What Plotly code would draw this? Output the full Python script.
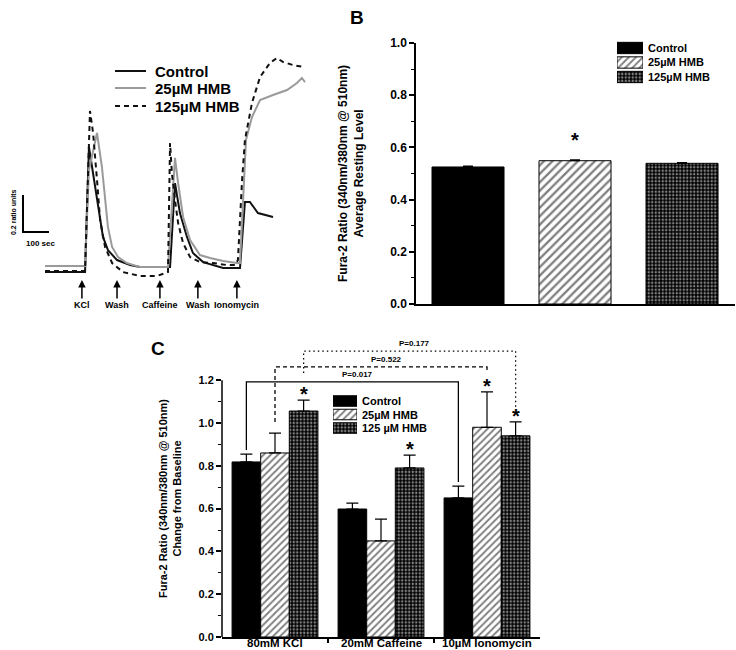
import plotly.graph_objects as go

W, H = 736, 650
FONT = "Liberation Sans, Arial, Helvetica, sans-serif"


def px(x):
    return x / W


def py(y):
    return (H - y) / H


# ---------------- Panel A data (time in s, Fura-2 ratio) ----------------
t_ctrl = [0, 154, 169, 185, 204, 223, 242, 277, 327, 365, 469, 481, 500, 519, 546,
          569, 608, 685, 750, 769, 788, 819, 877]
r_ctrl = [0.555, 0.555, 1.231, 1.091, 0.907, 0.745, 0.674, 0.620, 0.593, 0.582, 0.582,
          0.582, 1.036, 0.874, 0.745, 0.658, 0.609, 0.577, 0.577, 0.934, 0.934, 0.874, 0.853]

t_25 = [0, 154, 169, 200, 219, 231, 242, 258, 281, 315, 365, 473, 500, 512, 531, 558,
        596, 635, 685, 738, 750, 762, 773, 796, 827, 877, 931, 969, 988, 1000]
r_25 = [0.588, 0.588, 1.107, 1.307, 1.123, 0.961, 0.799, 0.691, 0.636, 0.604, 0.582,
        0.582, 1.172, 1.036, 0.853, 0.728, 0.647, 0.631, 0.615, 0.604, 0.604, 0.945,
        1.269, 1.393, 1.485, 1.512, 1.539, 1.577, 1.604, 1.582]

t_125 = [0, 154, 173, 185, 200, 212, 231, 258, 300, 365, 431, 473, 481, 488, 500, 512,
         531, 558, 596, 646, 700, 731, 742, 758, 769, 796, 827, 865, 892, 915, 954, 992]
r_125 = [0.561, 0.561, 1.426, 1.307, 1.053, 0.836, 0.691, 0.604, 0.555, 0.534, 0.534,
         0.555, 1.253, 1.091, 0.945, 0.820, 0.712, 0.636, 0.609, 0.604, 0.593, 0.593,
         0.620, 1.053, 1.269, 1.469, 1.609, 1.685, 1.712, 1.691, 1.674, 1.664]

a_legend = ["Control", "25\u00b5M HMB", "125\u00b5M HMB"]
event_t = [142, 277, 442, 588, 738]
event_labels = ["KCl", "Wash", "Caffeine", "Wash", "Ionomycin"]

# ---------------- Panel B data ----------------
b_groups = ["Control", "25\u00b5M HMB", "125\u00b5M HMB"]
b_vals = [0.525, 0.549, 0.539]
b_err = [0.003, 0.003, 0.003]
b_sig = [False, True, False]

# ---------------- Panel C data ----------------
c_cats = ["80mM KCl", "20mM Caffeine", "10\u00b5M Ionomycin"]
c_legend = ["Control", "25\u00b5M HMB", "125 \u00b5M HMB"]
c_ctrl = [0.818, 0.598, 0.650]
c_ctrl_err = [0.037, 0.028, 0.055]
c_25 = [0.860, 0.449, 0.980]
c_25_err = [0.093, 0.102, 0.165]
c_125 = [1.056, 0.790, 0.940]
c_125_err = [0.051, 0.060, 0.065]
c_sig = [[False, False, False], [False, False, True], [True, True, True]]
p_labels = ["P=0.017", "P=0.522", "P=0.177"]

# ---------------- styles ----------------
PAT = [dict(shape="", size=8, solidity=0.3, bg="black", fg="black"),
       dict(shape="/", size=5, solidity=0.38, bg="white", fg="black"),
       dict(shape=".", size=3.5, solidity=0.4, bg="black", fg="white")]


def pattern(sizes=None):
    return dict(shape=[p["shape"] for p in PAT], fgcolor=[p["fg"] for p in PAT],
                bgcolor=[p["bg"] for p in PAT],
                size=sizes or [p["size"] for p in PAT],
                solidity=[p["solidity"] for p in PAT])


fig = go.Figure()

for t, r, col, dash in [(t_ctrl, r_ctrl, "#111111", "solid"),
                        (t_25, r_25, "#9a9a9a", "solid"),
                        (t_125, r_125, "#111111", "5px,4px")]:
    fig.add_trace(go.Scatter(x=t, y=r, mode="lines", line=dict(color=col, width=2, dash=dash),
                             xaxis="x", yaxis="y", showlegend=False, hoverinfo="skip"))

fig.add_trace(go.Bar(
    x=[0, 1, 2], y=b_vals, width=0.673, xaxis="x2", yaxis="y2", showlegend=False,
    marker=dict(color="black", line=dict(color="black", width=1), pattern=pattern([8, 6, 3.5])),
    error_y=dict(type="data", array=b_err, arrayminus=[0, 0, 0], symmetric=False,
                 color="black", thickness=1.2, width=5),
))

CW = 0.27
for i, (vals, errs) in enumerate([(c_ctrl, c_ctrl_err), (c_25, c_25_err), (c_125, c_125_err)]):
    p = PAT[i]
    fig.add_trace(go.Bar(
        x=[0, 1, 2], y=vals, width=CW, offset=(i - 1.5) * CW, xaxis="x3", yaxis="y3",
        showlegend=False,
        marker=dict(color="black", line=dict(color="black", width=1),
                    pattern=dict(shape=p["shape"], fgcolor=p["fg"], bgcolor=p["bg"],
                                 size=p["size"], solidity=p["solidity"])),
        error_y=dict(type="data", array=errs, arrayminus=[0, 0, 0], symmetric=False,
                     color="black", thickness=1.2, width=6),
    ))

for xa, ya in [("x4", "y4"), ("x5", "y5")]:
    fig.add_trace(go.Bar(
        x=[1, 1, 1], y=[0, 1, 2], orientation="h", width=0.78, xaxis=xa, yaxis=ya,
        showlegend=False, hoverinfo="skip",
        marker=dict(color="black", line=dict(color="black", width=1), pattern=pattern()),
    ))

A_T0, A_SPS = 45, 0.26
A_R0, A_PY, A_PPU = 0.55, 273, 185
a_xr = [(0 - A_T0) / A_SPS, (320 - A_T0) / A_SPS]
a_yr = [A_R0 + (A_PY - 330) / A_PPU, A_R0 + (A_PY - 30) / A_PPU]

C_Y0, C_PPU = 637, 214
C_TOP = 1.45

noaxis = dict(visible=False, showgrid=False, zeroline=False, fixedrange=True)
tickfont_b = dict(size=12, family=FONT, color="black", weight="bold")

fig.update_layout(
    width=W, height=H, margin=dict(l=0, r=0, t=0, b=0, autoexpand=False),
    paper_bgcolor="white", plot_bgcolor="rgba(0,0,0,0)",
    font=dict(family=FONT, color="black", weight="bold"),
    barmode="overlay", showlegend=False,
    xaxis=dict(domain=[0, px(320)], range=a_xr, anchor="y", **noaxis),
    yaxis=dict(domain=[py(330), py(30)], range=a_yr, anchor="x", **noaxis),
    xaxis2=dict(domain=[px(416), px(735)], range=[-0.486, 2.495], anchor="y2",
                showline=True, linecolor="black", linewidth=1.5, ticks="",
                showticklabels=False, showgrid=False, zeroline=False),
    yaxis2=dict(domain=[py(304), py(43)], range=[0, 1.0], anchor="x2",
                showline=True, linecolor="black", linewidth=1.5, showgrid=False, zeroline=False,
                tickvals=[0, 0.2, 0.4, 0.6, 0.8, 1.0], tickformat=".1f",
                ticks="outside", ticklen=5, tickwidth=1.5, tickcolor="black",
                tickfont=tickfont_b,
                minor=dict(tickvals=[0.1, 0.3, 0.5, 0.7, 0.9], ticks="outside", ticklen=3,
                           tickwidth=1.2, tickcolor="black")),
    xaxis3=dict(domain=[px(222), px(540)], range=[-0.5, 2.5], anchor="y3",
                showline=True, linecolor="black", linewidth=1.5, showgrid=False, zeroline=False,
                tickvals=[0, 1, 2], ticks="", showticklabels=False,
                minor=dict(tickvals=[0.5, 1.5], ticks="outside", ticklen=4, tickwidth=1.5,
                           tickcolor="black")),
    yaxis3=dict(domain=[py(C_Y0), py(C_Y0 - C_TOP * C_PPU)], range=[0, C_TOP], anchor="x3",
                showline=False, showgrid=False, zeroline=False,
                tickvals=[0, 0.2, 0.4, 0.6, 0.8, 1.0, 1.2], tickformat=".1f",
                ticks="outside", ticklen=5, tickwidth=1.5, tickcolor="black",
                tickfont=dict(size=11, family=FONT, color="black", weight="bold"),
                minor=dict(tickvals=[0.1, 0.3, 0.5, 0.7, 0.9, 1.1], ticks="outside",
                           ticklen=3, tickwidth=1.2, tickcolor="black")),
    xaxis4=dict(domain=[px(617), px(643)], range=[0, 1], anchor="y4", **noaxis),
    yaxis4=dict(domain=[py(84.25), py(40.75)], range=[2.5, -0.5], anchor="x4", **noaxis),
    xaxis5=dict(domain=[px(333), px(357)], range=[0, 1], anchor="y5", **noaxis),
    yaxis5=dict(domain=[py(434.75), py(394.25)], range=[2.5, -0.5], anchor="x5", **noaxis),
)

shapes = []
ann = []


def label(xp, yp, text, size, xanchor="center", angle=0):
    ann.append(dict(x=px(xp), y=py(yp), xref="paper", yref="paper", text=text,
                    xanchor=xanchor, yanchor="middle", textangle=angle,
                    showarrow=False, font=dict(size=size)))


# ---- Panel A
sb_t = (23 - A_T0) / A_SPS
sb_r = A_R0 + (A_PY - 232) / A_PPU
shapes.append(dict(type="path", xref="x", yref="y",
                   path=f"M {sb_t},{sb_r + 0.2} L {sb_t},{sb_r} L {sb_t + 100},{sb_r}",
                   line=dict(color="black", width=2)))
label(14, 212, "0.2 ratio units", 7, angle=-90)
label(40, 243, "100 sec", 8)

for i, (lab, col, dash) in enumerate(zip(a_legend, ["#111111", "#9a9a9a", "#111111"],
                                         ["solid", "solid", "5px,4px"])):
    yy = [71, 88, 106][i]
    shapes.append(dict(type="line", xref="paper", yref="paper", x0=px(115), x1=px(146),
                       y0=py(yy), y1=py(yy), line=dict(color=col, width=2, dash=dash)))
    label(153, yy, lab, 15, xanchor="left")

arrow_r = A_R0 + (A_PY - 280) / A_PPU
for t, lab in zip(event_t, event_labels):
    ann.append(dict(x=t, y=arrow_r, xref="x", yref="y", text=lab, showarrow=True,
                    ax=0, ay=25, arrowhead=2, arrowsize=1, arrowwidth=1.5,
                    arrowcolor="black", font=dict(size=9)))

# ---- Panel B
label(357, 18, "B", 19)
label(351, 174, "Fura-2 Ratio (340nm/380nm @ 510nm)<br>Average Resting Level", 12, angle=-90)
for i, s in enumerate(b_sig):
    if s:
        ann.append(dict(x=i, y=b_vals[i] + b_err[i], xref="x2", yref="y2", text="*",
                        showarrow=False, yanchor="bottom", yshift=7, font=dict(size=20)))
for i, lab in enumerate(b_groups):
    label(646, [48, 62.5, 77][i], lab, 11, xanchor="left")

# ---- Panel C
label(158, 348, "C", 19)
label(170, 499, "Fura-2 Ratio (340nm/380nm @ 510nm)<br>Change from Baseline", 11, angle=-90)
shapes.append(dict(type="line", xref="paper", yref="y3", x0=px(222), x1=px(222),
                   y0=0, y1=1.2, line=dict(color="black", width=1.5)))
for i, lab in enumerate(c_legend):
    label(360, [401, 414.5, 428][i], lab, 11, xanchor="left")
for g, lab in enumerate(c_cats):
    ann.append(dict(x=g, y=0, xref="x3", yref="paper", text=lab, showarrow=False,
                    xanchor="center", yanchor="bottom", yshift=-1, font=dict(size=11.5)))

series = [(c_ctrl, c_ctrl_err), (c_25, c_25_err), (c_125, c_125_err)]
for si, (vals, errs) in enumerate(series):
    xoff = (si - 1) * CW
    for g in range(3):
        if c_sig[si][g]:
            ann.append(dict(x=g + xoff, y=vals[g] + errs[g], xref="x3", yref="y3", text="*",
                            showarrow=False, yanchor="bottom", yshift=-7, font=dict(size=20)))

brackets = [(0, 0.874, 1.192, 0.724, "solid"),
            (1, 1.005, 1.262, 1.238, "4px,3px"),
            (2, 1.234, 1.336, 1.075, "1.5px,3px")]
for (si, yl, yt, yr, dash), lab in zip(brackets, p_labels):
    xoff = (si - 1) * CW
    x0, x1 = 0 + xoff, 2 + xoff
    shapes.append(dict(type="path", xref="x3", yref="y3",
                       path=f"M {x0},{yl} L {x0},{yt} L {x1},{yt} L {x1},{yr}",
                       line=dict(color="black", width=1.3, dash=dash)))
    ann.append(dict(x=(x0 + x1) / 2 + 0.05, y=yt, xref="x3", yref="y3", text=lab,
                    showarrow=False, yanchor="bottom", yshift=1, font=dict(size=8)))

fig.update_layout(shapes=shapes, annotations=ann)
fig.write_html("out.html")
